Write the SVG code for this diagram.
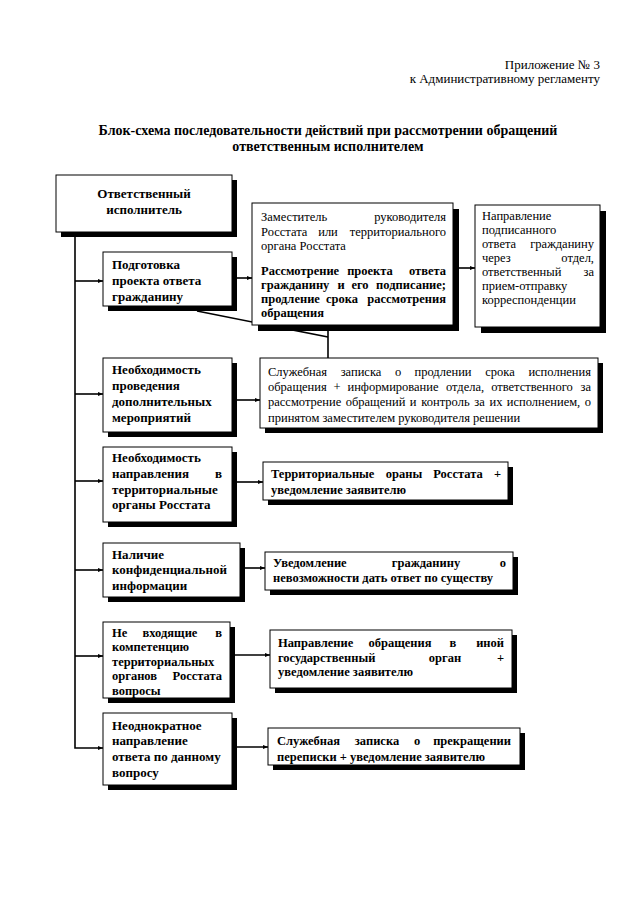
<svg xmlns="http://www.w3.org/2000/svg" width="640" height="905" viewBox="0 0 640 905">
<style>
text{font-family:"Liberation Serif","Times New Roman",serif;font-size:12.5px;fill:#000}
.b{font-weight:bold}
.l{font-weight:bold;font-size:13px}
.s{font-weight:bold;font-size:12.5px}
.h{font-size:13px}
.t{font-size:14px;font-weight:bold}
.box{fill:#fff;stroke:#000;stroke-width:1}
.sh{fill:#000}
.c{fill:none;stroke:#000;stroke-width:1.6}
.e{text-anchor:end}
.m{text-anchor:middle}
</style>
<defs>
<marker id="ar" viewBox="0 0 10 10" refX="10" refY="5" markerWidth="5" markerHeight="5" orient="auto" markerUnits="userSpaceOnUse">
<path d="M0,1 L10,5 L0,9 z" fill="#000"/>
</marker>
</defs>
<rect width="640" height="905" fill="#fff"/>
<g id="header">
<text class="h e" x="600" y="69">Приложение № 3</text>
<text class="h e" x="600" y="83">к Административному регламенту</text>
<text class="t m" x="328" y="135">Блок-схема последовательности действий при рассмотрении обращений</text>
<text class="t m" x="328" y="151">ответственным исполнителем</text>
</g>
<g id="connectors">
<polyline class="c" points="75,232 75,748 103,748" marker-end="url(#ar)"/>
<line class="c" x1="75" y1="281" x2="103" y2="281" marker-end="url(#ar)"/>
<line class="c" x1="232" y1="278" x2="252" y2="278" marker-end="url(#ar)"/>
<line class="c" x1="453" y1="268" x2="475" y2="268" marker-end="url(#ar)"/>
<line class="c" x1="197" y1="311" x2="328" y2="337"/>
<line class="c" x1="328" y1="325" x2="328" y2="358"/>
<line class="c" x1="75" y1="394" x2="103" y2="394" marker-end="url(#ar)"/>
<line class="c" x1="232" y1="400" x2="260" y2="400" marker-end="url(#ar)"/>
<line class="c" x1="75" y1="481" x2="103" y2="481" marker-end="url(#ar)"/>
<line class="c" x1="232" y1="482" x2="263" y2="482" marker-end="url(#ar)"/>
<line class="c" x1="75" y1="570" x2="103" y2="570" marker-end="url(#ar)"/>
<line class="c" x1="240" y1="568" x2="265" y2="568" marker-end="url(#ar)"/>
<line class="c" x1="75" y1="656" x2="103" y2="656" marker-end="url(#ar)"/>
<line class="c" x1="230" y1="655" x2="270" y2="655" marker-end="url(#ar)"/>
<line class="c" x1="232" y1="747" x2="268" y2="747" marker-end="url(#ar)"/>
</g>
<g id="n1">
<rect class="sh" x="61" y="180" width="176" height="57"/>
<rect class="box" x="56" y="175" width="176" height="57"/>
<text class="l m" x="144" y="198">Ответственный</text>
<text class="l m" x="144" y="214">исполнитель</text>
</g>
<g id="n2">
<rect class="sh" x="108" y="257" width="129" height="54"/>
<rect class="box" x="103" y="252" width="129" height="54"/>
<text class="l" x="112" y="269">Подготовка</text>
<text class="l" x="112" y="285">проекта ответа</text>
<text class="l" x="112" y="301">гражданину</text>
</g>
<g id="n3">
<rect class="sh" x="258" y="209" width="201" height="122"/>
<rect class="box" x="252" y="203" width="201" height="122"/>
<text x="261" y="221">Заместитель</text>
<text class="e" x="446" y="221">руководителя</text>
<text x="261" y="236">Росстата</text>
<text class="m" x="328" y="236">или</text>
<text class="e" x="446" y="236">территориального</text>
<text x="261" y="250">органа Росстата</text>
<text class="b" x="261" y="275">Рассмотрение</text>
<text class="b m" x="370" y="275">проекта</text>
<text class="b e" x="446" y="275">ответа</text>
<text class="b" x="261" y="289">гражданину</text>
<text class="b m" x="341" y="289">и</text>
<text class="b m" x="360" y="289">его</text>
<text class="b e" x="446" y="289">подписание;</text>
<text class="b" x="261" y="303">продление</text>
<text class="b m" x="342" y="303">срока</text>
<text class="b e" x="446" y="303">рассмотрения</text>
<text class="b" x="261" y="317">обращения</text>
</g>
<g id="n4">
<rect class="sh" x="481" y="211" width="125" height="122"/>
<rect class="box" x="475" y="205" width="125" height="122"/>
<text x="482" y="220">Направление</text>
<text x="482" y="234">подписанного</text>
<text x="482" y="248">ответа</text>
<text class="e" x="594" y="248">гражданину</text>
<text x="482" y="262">через</text>
<text class="e" x="594" y="262">отдел,</text>
<text x="482" y="276">ответственный</text>
<text class="e" x="594" y="276">за</text>
<text x="482" y="290">прием-отправку</text>
<text x="482" y="304">корреспонденции</text>
</g>
<g id="n5">
<rect class="sh" x="108" y="363" width="129" height="74"/>
<rect class="box" x="103" y="358" width="129" height="74"/>
<text class="l" x="112" y="374">Необходимость</text>
<text class="l" x="112" y="390">проведения</text>
<text class="l" x="112" y="406">дополнительных</text>
<text class="l" x="112" y="422">мероприятий</text>
</g>
<g id="n6">
<rect class="sh" x="265" y="363" width="338" height="70"/>
<rect class="box" x="260" y="358" width="338" height="70"/>
<text x="268" y="376">Служебная</text>
<text class="m" x="361" y="376">записка</text>
<text class="m" x="398" y="376">о</text>
<text class="m" x="443" y="376">продлении</text>
<text class="m" x="500" y="376">срока</text>
<text class="e" x="591" y="376">исполнения</text>
<text x="268" y="391">обращения</text>
<text class="m" x="337" y="391">+</text>
<text class="m" x="393" y="391">информирование</text>
<text class="m" x="465" y="391">отдела,</text>
<text class="m" x="532" y="391">ответственного</text>
<text class="e" x="591" y="391">за</text>
<text x="268" y="406">рассмотрение</text>
<text class="m" x="375.5" y="406">обращений</text>
<text class="m" x="413" y="406">и</text>
<text class="m" x="445.5" y="406">контроль</text>
<text class="m" x="479.5" y="406">за</text>
<text class="m" x="496" y="406">их</text>
<text class="m" x="543.5" y="406">исполнением,</text>
<text class="e" x="591" y="406">о</text>
<text x="268" y="422">принятом заместителем руководителя решении</text>
</g>
<g id="n7">
<rect class="sh" x="108" y="452" width="129" height="75"/>
<rect class="box" x="103" y="447" width="129" height="75"/>
<text class="l" x="112" y="462">Необходимость</text>
<text class="l" x="112" y="478">направления</text>
<text class="l e" x="222" y="478">в</text>
<text class="l" x="112" y="494">территориальные</text>
<text class="l" x="112" y="509">органы Росстата</text>
</g>
<g id="n8">
<rect class="sh" x="268" y="467" width="245" height="38"/>
<rect class="box" x="263" y="462" width="245" height="38"/>
<text class="b" x="271" y="478">Территориальные</text>
<text class="b m" x="404" y="478">ораны</text>
<text class="b m" x="458" y="478">Росстата</text>
<text class="b e" x="501" y="478">+</text>
<text class="b" x="271" y="494">уведомление заявителю</text>
</g>
<g id="n9">
<rect class="sh" x="108" y="548" width="137" height="54"/>
<rect class="box" x="103" y="543" width="137" height="54"/>
<text class="l" x="112" y="559">Наличие</text>
<text class="l" x="112" y="574">конфиденциальной</text>
<text class="l" x="112" y="590">информации</text>
</g>
<g id="n10">
<rect class="sh" x="270" y="557" width="248" height="38"/>
<rect class="box" x="265" y="552" width="248" height="38"/>
<text class="b" x="273" y="567">Уведомление</text>
<text class="b m" x="426" y="567">гражданину</text>
<text class="b e" x="506" y="567">о</text>
<text class="b" x="273" y="582">невозможности дать ответ по существу</text>
</g>
<g id="n11">
<rect class="sh" x="108" y="627" width="127" height="76"/>
<rect class="box" x="103" y="622" width="127" height="76"/>
<text class="s" x="112" y="636.5">Не</text>
<text class="s m" x="170" y="636.5">входящие</text>
<text class="s e" x="222" y="636.5">в</text>
<text class="s" x="112" y="651">компетенцию</text>
<text class="s" x="112" y="665.5">территориальных</text>
<text class="s" x="112" y="680">органов</text>
<text class="s e" x="222" y="680">Росстата</text>
<text class="s" x="112" y="694.5">вопросы</text>
</g>
<g id="n12">
<rect class="sh" x="275" y="635" width="242" height="58"/>
<rect class="box" x="270" y="630" width="242" height="58"/>
<text class="b" x="278" y="647">Направление</text>
<text class="b m" x="400" y="647">обращения</text>
<text class="b m" x="453" y="647">в</text>
<text class="b e" x="504" y="647">иной</text>
<text class="b" x="278" y="662">государственный</text>
<text class="b m" x="445" y="662">орган</text>
<text class="b e" x="504" y="662">+</text>
<text class="b" x="278" y="676">уведомление заявителю</text>
</g>
<g id="n13">
<rect class="sh" x="108" y="718" width="129" height="72"/>
<rect class="box" x="103" y="713" width="129" height="72"/>
<text class="l" x="112" y="730">Неоднократное</text>
<text class="l" x="112" y="745">направление</text>
<text class="l" x="112" y="761">ответа по данному</text>
<text class="l" x="112" y="777">вопросу</text>
</g>
<g id="n14">
<rect class="sh" x="273" y="733" width="252" height="37"/>
<rect class="box" x="268" y="728" width="252" height="37"/>
<text class="b" x="277" y="745">Служебная</text>
<text class="b m" x="377" y="745">записка</text>
<text class="b m" x="417" y="745">о</text>
<text class="b e" x="511" y="745">прекращении</text>
<text class="b" x="277" y="761">переписки + уведомление заявителю</text>
</g>
</svg>
